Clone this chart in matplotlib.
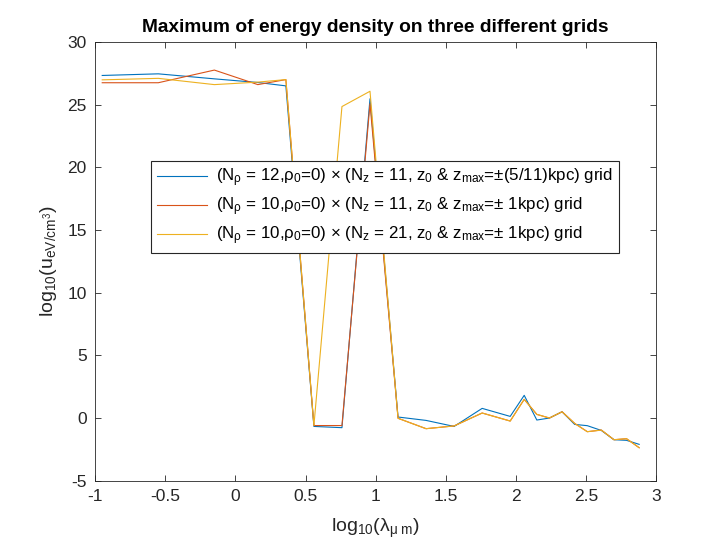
import matplotlib
matplotlib.use("Agg")
import matplotlib.pyplot as plt

plt.rcParams['font.family'] = ['Liberation Sans', 'DejaVu Sans']
plt.rcParams['mathtext.fontset'] = 'custom'
plt.rcParams['mathtext.rm'] = 'Liberation Sans'
plt.rcParams['mathtext.it'] = 'Liberation Sans:italic'
plt.rcParams['mathtext.bf'] = 'Liberation Sans:bold'
plt.rcParams['mathtext.default'] = 'regular'

x = [-0.95, -0.55, -0.15, 0.16, 0.36, 0.56, 0.76, 0.96, 1.16, 1.36, 1.56, 1.76,
     1.96, 2.06, 2.15, 2.24, 2.33, 2.42, 2.51, 2.61, 2.70, 2.79, 2.88]
blue = [27.33, 27.46, 27.06, 26.77, 26.5, -0.67, -0.77, 25.47, 0.08, -0.19, -0.67,
        0.77, 0.13, 1.81, -0.16, 0.0, 0.5, -0.51, -0.61, -0.99, -1.73, -1.78, -2.1]
orange = [26.75, 26.75, 27.76, 26.6, 27.0, -0.6, -0.6, 25.07, -0.02, -0.85, -0.63,
          0.4, -0.24, 1.49, 0.29, 0.0, 0.5, -0.43, -1.09, -0.96, -1.73, -1.65, -2.37]
yellow = [26.98, 27.1, 26.6, 26.8, 27.0, -0.6, 24.85, 26.07, -0.02, -0.85, -0.63,
          0.4, -0.24, 1.49, 0.29, 0.0, 0.5, -0.43, -1.09, -0.96, -1.73, -1.65, -2.37]

labels = [
    r'(N$_\rho$ = 12,$\rho_0$=0) × (N$_z$ = 11, z$_0$ & z$_{max}$=±(5/11)kpc) grid',
    r'(N$_\rho$ = 10,$\rho_0$=0) × (N$_z$ = 11, z$_0$ & z$_{max}$=± 1kpc) grid',
    r'(N$_\rho$ = 10,$\rho_0$=0) × (N$_z$ = 21, z$_0$ & z$_{max}$=± 1kpc) grid',
]
colors = ['#0072BD', '#D95319', '#EDB120']

xticks = [-1, -0.5, 0, 0.5, 1, 1.5, 2, 2.5, 3]
xticklabels = ['-1', '-0.5', '0', '0.5', '1', '1.5', '2', '2.5', '3']
yticks = [-5, 0, 5, 10, 15, 20, 25, 30]
yticklabels = ['-5', '0', '5', '10', '15', '20', '25', '30']

W, H = 727, 545
fig = plt.figure(figsize=(W / 100, H / 100), dpi=100)
left, right, top, bottom = 95.2, 656, 42, 480.7
ax = fig.add_axes([left / W, 1 - bottom / H, (right - left) / W, (bottom - top) / H])

for ys, c, lab in zip([blue, orange, yellow], colors, labels):
    ax.plot(x, ys, color=c, lw=0.8, label=lab)

ax.set_xlim(-1, 3)
ax.set_ylim(-5, 30)
ax.set_xticks(xticks)
ax.set_xticklabels(xticklabels)
ax.set_yticks(yticks)
ax.set_yticklabels(yticklabels)
ax.tick_params(direction='in', top=True, right=True, length=4, width=0.6,
               color='#262626', labelcolor='#262626', labelsize=12.5, pad=6)
for s in ax.spines.values():
    s.set_color('#262626')
    s.set_linewidth(0.6)

ax.set_title('Maximum of energy density on three different grids',
             fontsize=13.8, fontweight='bold', pad=7)
ax.set_xlabel(r'log$_{10}$($\lambda_{\mu\ m}$)', fontsize=14, color='#262626', labelpad=9)
ax.set_ylabel(r'log$_{10}$(u$_{eV/cm^3}$)', fontsize=14, color='#262626', labelpad=6)

leg = ax.legend(loc='upper left', bbox_to_anchor=(0.099, 0.729), fontsize=12.2,
                fancybox=False, framealpha=1, edgecolor='#262626',
                handlelength=3.0, borderaxespad=0, borderpad=0.35,
                labelspacing=0.38, handletextpad=0.5)
leg.get_frame().set_linewidth(0.8)

fig.savefig('out.png', dpi=100)
